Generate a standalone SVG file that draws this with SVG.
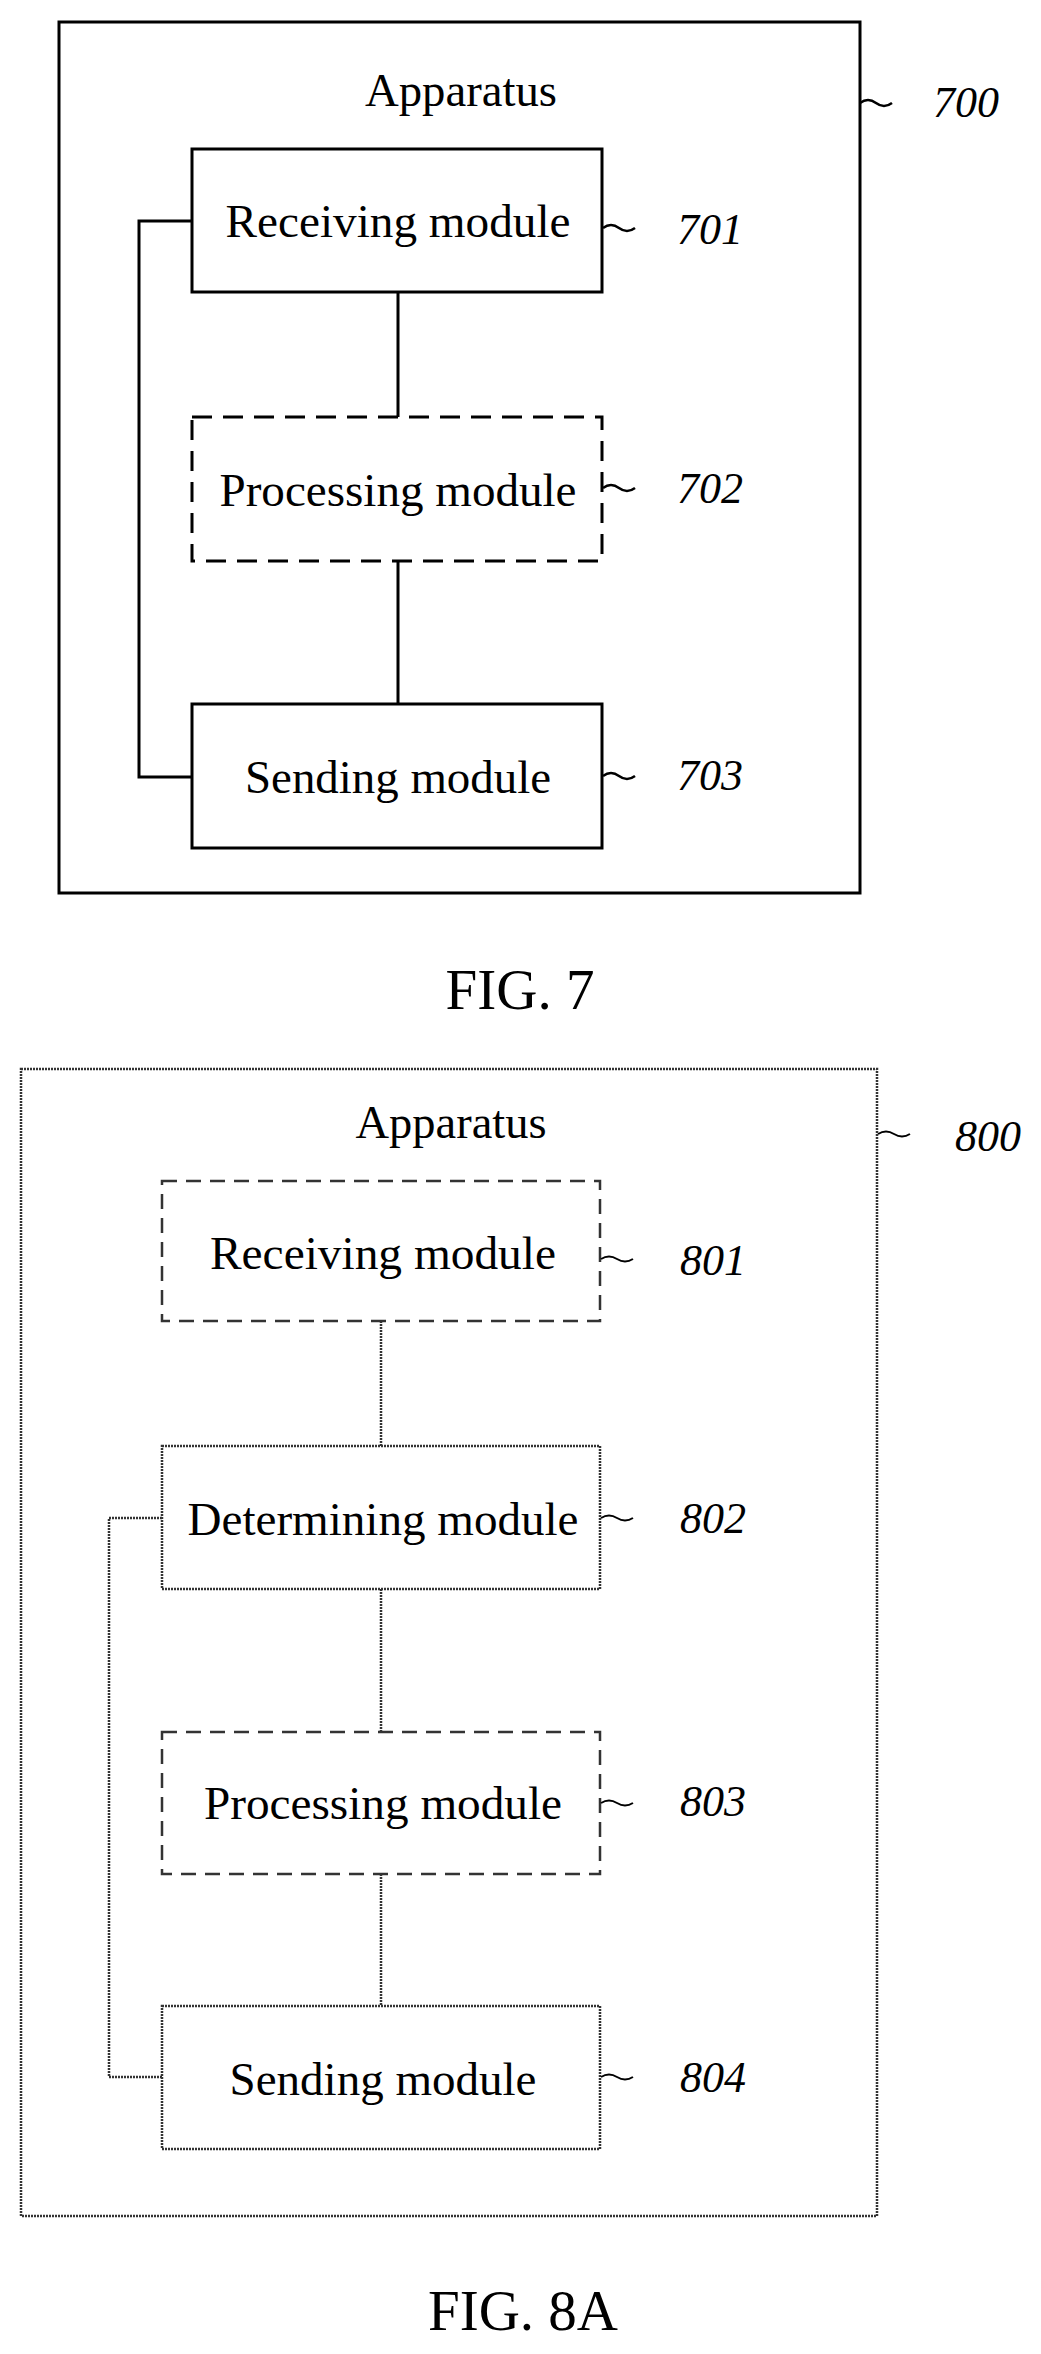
<svg xmlns="http://www.w3.org/2000/svg" width="1041" height="2354" viewBox="0 0 1041 2354">
<style>
text{font-family:"Liberation Serif","Times New Roman",serif;fill:#000}
.lbl{font-size:46px;text-anchor:middle}
.num{font-size:44px;font-style:italic}
.box{fill:none;stroke:#000;stroke-width:3}
.dash{fill:none;stroke:#000;stroke-width:3;stroke-dasharray:20 11}
.dot{fill:none;stroke:#333;stroke-width:2.5;stroke-dasharray:2 1}
.ddash{fill:none;stroke:#333;stroke-width:2.5;stroke-dasharray:15 9}
.tl{fill:none;stroke:#000;stroke-width:2.5}
.ln{fill:none;stroke:#000;stroke-width:3}
.lnd{fill:none;stroke:#333;stroke-width:2.5;stroke-dasharray:2 1}
</style>
<g id="fig7">
<g id="n700"><rect class="box" x="59" y="22" width="801" height="871"/><text class="lbl" x="461" y="106" textLength="192" lengthAdjust="spacingAndGlyphs">Apparatus</text><path class="tl" d="M860 103 q8 -6 16 0 t16 0"/><text class="num" x="933" y="117">700</text></g>
<g id="n701"><rect class="box" x="192" y="149" width="410" height="143"/><text class="lbl" x="398" y="237" textLength="345" lengthAdjust="spacingAndGlyphs">Receiving module</text><path class="tl" d="M603 228 q8 -6 16 0 t16 0"/><text class="num" x="677" y="244">701</text></g>
<g id="n702"><rect class="dash" x="192" y="417" width="410" height="144"/><text class="lbl" x="398" y="506" textLength="357" lengthAdjust="spacingAndGlyphs">Processing module</text><path class="tl" d="M603 488 q8 -6 16 0 t16 0"/><text class="num" x="677" y="503">702</text></g>
<g id="n703"><rect class="box" x="192" y="704" width="410" height="144"/><text class="lbl" x="398" y="793" textLength="306" lengthAdjust="spacingAndGlyphs">Sending module</text><path class="tl" d="M603 776 q8 -6 16 0 t16 0"/><text class="num" x="677" y="790">703</text></g>
<g id="c7"><path class="ln" d="M398 292V417M398 561V704M192 221H139V777H192"/></g>
<text x="520" y="1009" style="font-size:57px;text-anchor:middle">FIG. 7</text>
</g>
<g id="fig8">
<g id="n800"><rect class="dot" x="21" y="1069" width="856" height="1147"/><text class="lbl" x="451" y="1138" textLength="191" lengthAdjust="spacingAndGlyphs">Apparatus</text><path class="tl" d="M878 1134 q8 -5 16 0 t16 0" style="stroke-width:2"/><text class="num" x="955" y="1151">800</text></g>
<g id="n801"><rect class="ddash" x="162" y="1181" width="438" height="140"/><text class="lbl" x="383" y="1269" textLength="346" lengthAdjust="spacingAndGlyphs">Receiving module</text><path class="tl" d="M601 1259 q8 -5 16 0 t16 0" style="stroke-width:2"/><text class="num" x="680" y="1275">801</text></g>
<g id="n802"><rect class="dot" x="162" y="1446" width="438" height="143"/><text class="lbl" x="383" y="1535" textLength="391" lengthAdjust="spacingAndGlyphs">Determining module</text><path class="tl" d="M601 1518 q8 -5 16 0 t16 0" style="stroke-width:2"/><text class="num" x="680" y="1533">802</text></g>
<g id="n803"><rect class="ddash" x="162" y="1732" width="438" height="142"/><text class="lbl" x="383" y="1819" textLength="358" lengthAdjust="spacingAndGlyphs">Processing module</text><path class="tl" d="M601 1803 q8 -5 16 0 t16 0" style="stroke-width:2"/><text class="num" x="680" y="1816">803</text></g>
<g id="n804"><rect class="dot" x="162" y="2006" width="438" height="143"/><text class="lbl" x="383" y="2095" textLength="307" lengthAdjust="spacingAndGlyphs">Sending module</text><path class="tl" d="M601 2077 q8 -5 16 0 t16 0" style="stroke-width:2"/><text class="num" x="680" y="2092">804</text></g>
<g id="c8"><path class="lnd" d="M381 1321V1446M381 1589V1732M381 1874V2006M162 1518H109V2077H162"/></g>
<text x="523" y="2330" style="font-size:57px;text-anchor:middle">FIG. 8A</text>
</g>
</svg>
